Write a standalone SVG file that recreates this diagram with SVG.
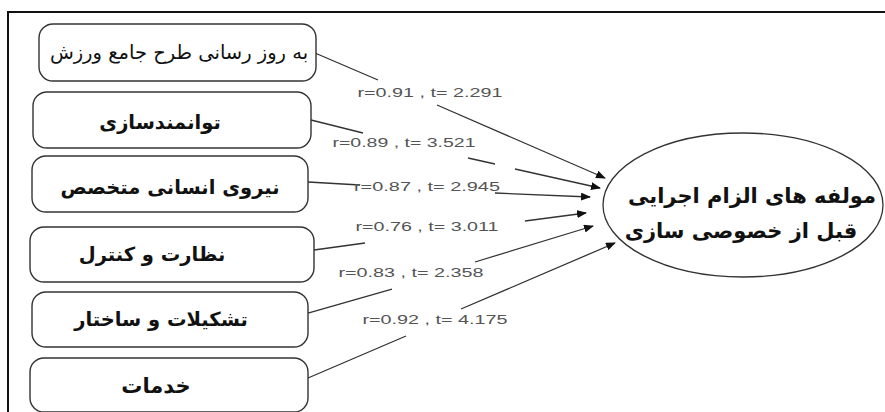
<svg xmlns="http://www.w3.org/2000/svg" width="885" height="412" viewBox="0 0 885 412">
<style>
.box{fill:#fff;stroke:#333;stroke-width:1.4}
.fa{font-family:"DejaVu Sans","Noto Sans",sans-serif;fill:#111;text-anchor:middle}
.b{font-weight:bold;font-size:19.5px}
.lbl{font-family:"Liberation Sans",Arial,sans-serif;font-size:12.5px;fill:#555;text-anchor:middle}
.cn{stroke:#333;stroke-width:1.3;fill:none;marker-end:url(#ah)}
</style>
<defs>
<marker id="ah" markerWidth="10" markerHeight="8" refX="9" refY="4" orient="auto" markerUnits="userSpaceOnUse">
<path d="M0,0 L10,4 L0,8 z" fill="#111"/>
</marker>
</defs>
<rect x="0" y="0" width="885" height="412" fill="#fff"/>
<rect x="8" y="12" width="890" height="420" fill="none" stroke="#111" stroke-width="2"/>

<g id="connectors">
<path class="cn" d="M315,53 L378,80 M437,105 L605,178"/>
<path class="cn" d="M311,120 L363,133 M468,158 L495,164 M515,169 L600,188"/>
<path class="cn" d="M308,182 L360,185 M495,193 L590,197"/>
<path class="cn" d="M314,250 L365,243 M525,221 L586,213"/>
<path class="cn" d="M308,313 L392,289 M475,262 L593,226"/>
<path class="cn" d="M308,378 L406,336 M461,309 L615,243"/>
<text class="lbl" x="430" y="97" textLength="145" lengthAdjust="spacingAndGlyphs">r=0.91 , t= 2.291</text>
<text class="lbl" x="404" y="147" textLength="143" lengthAdjust="spacingAndGlyphs">r=0.89 , t= 3.521</text>
<text class="lbl" x="427" y="191" textLength="146" lengthAdjust="spacingAndGlyphs">r=0.87 , t= 2.945</text>
<text class="lbl" x="427" y="231" textLength="143" lengthAdjust="spacingAndGlyphs">r=0.76 , t= 3.011</text>
<text class="lbl" x="411" y="277" textLength="145" lengthAdjust="spacingAndGlyphs">r=0.83 , t= 2.358</text>
<text class="lbl" x="435" y="324" textLength="145" lengthAdjust="spacingAndGlyphs">r=0.92 , t= 4.175</text>
</g>

<g id="n1">
<rect class="box" x="39" y="24" width="277" height="57" rx="14"/>
<text class="fa" x="179" y="59" font-size="19.5">به روز رسانی طرح جامع ورزش</text>
</g>
<g id="n2">
<rect class="box" x="33" y="92" width="278" height="56" rx="14"/>
<text class="fa b" x="160" y="129">توانمندسازی</text>
</g>
<g id="n3">
<rect class="box" x="32" y="156" width="276" height="56" rx="14"/>
<text class="fa b" x="170" y="194">نیروی انسانی متخصص</text>
</g>
<g id="n4">
<rect class="box" x="30" y="227" width="284" height="55" rx="14"/>
<text class="fa b" x="152" y="261">نظارت و کنترل</text>
</g>
<g id="n5">
<rect class="box" x="32" y="292" width="276" height="55" rx="14"/>
<text class="fa b" x="161" y="326">تشکیلات و ساختار</text>
</g>
<g id="n6">
<rect class="box" x="30" y="358" width="278" height="54" rx="14"/>
<text class="fa" x="156" y="393" font-size="21" font-weight="bold">خدمات</text>
</g>
<g id="n7">
<ellipse cx="743" cy="205" rx="140" ry="72" fill="#fff" stroke="#333" stroke-width="1.3"/>
<text class="fa" x="752" y="203" font-size="21" font-weight="bold">مولفه های الزام اجرایی</text>
<text class="fa" x="741" y="238" font-size="21" font-weight="bold">قبل از خصوصی سازی</text>
</g>
</svg>
